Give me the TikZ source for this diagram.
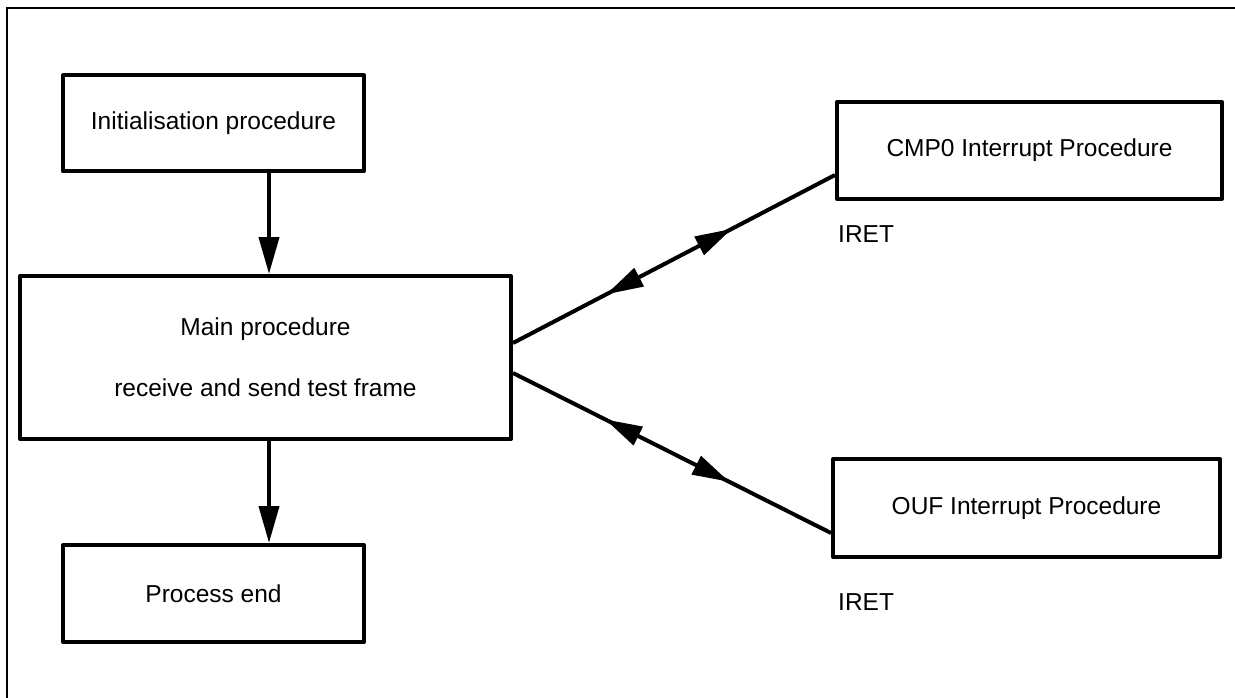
\documentclass[tikz,border=0pt]{standalone}
\usepackage{fontspec}
\setmainfont{Liberation Sans}
\usetikzlibrary{arrows.meta,decorations.markings,calc}
\begin{document}
\begin{tikzpicture}[x=1pt,y=-1pt,
  box/.style={draw,line width=4pt,line join=round,rectangle,inner sep=0pt,
    font=\fontsize{24.5pt}{29pt}\selectfont},
  lbl/.style={inner sep=0pt,anchor=west,font=\fontsize{24.5pt}{29pt}\selectfont},
  conn/.style={line width=4pt},
  downarrow/.style={conn,-{Triangle[length=37pt,width=20pt]}},
  twoway/.style={conn,postaction={decorate},decoration={markings,
    mark=at position 0.29 with {\arrowreversed{Triangle[length=37pt,width=20pt]}},
    mark=at position 0.68 with {\arrow{Triangle[length=37pt,width=20pt]}}}}]
\useasboundingbox (0,0) rectangle (1235,698);
% outer frame (top and left only)
\draw[line width=2pt] (7,698) -- (7,8) -- (1235,8);
% boxes
\node[box,minimum width=301pt,minimum height=96pt] (init) at (213.5,123.5)
  {\raisebox{-3pt}{Initialisation procedure}};
\node[box,minimum width=491pt,minimum height=163pt,align=center,
  font=\fontsize{24.5pt}{61pt}\selectfont] (main) at (265.5,357.5)
  {Main procedure\\receive and send test frame};
\node[box,minimum width=301pt,minimum height=97pt] (pend) at (213.5,593.5)
  {\raisebox{-5pt}{Process end}};
\node[box,minimum width=385pt,minimum height=97pt] (cmp) at (1029.5,150.5)
  {\raisebox{-8pt}{CMP0 Interrupt Procedure}};
\node[box,minimum width=387pt,minimum height=98pt] (ouf) at (1026.5,508)
  {OUF Interrupt Procedure};
% labels
\node[lbl] (iret1) at (838,234) {IRET};
\node[lbl] (iret2) at (838,602) {IRET};
% connectors
\coordinate (ax) at (269,0);
\draw[downarrow] (init.south -| ax) -- (main.north -| ax);
\draw[downarrow] (main.south -| ax) -- (pend.north -| ax);
\draw[twoway] ($(main.east)+(0,-14.5)$) -- ($(cmp.west)+(0,24.5)$);
\draw[twoway] ($(main.east)+(0,15.5)$) -- ($(ouf.west)+(0,25)$);
\end{tikzpicture}
\end{document}
